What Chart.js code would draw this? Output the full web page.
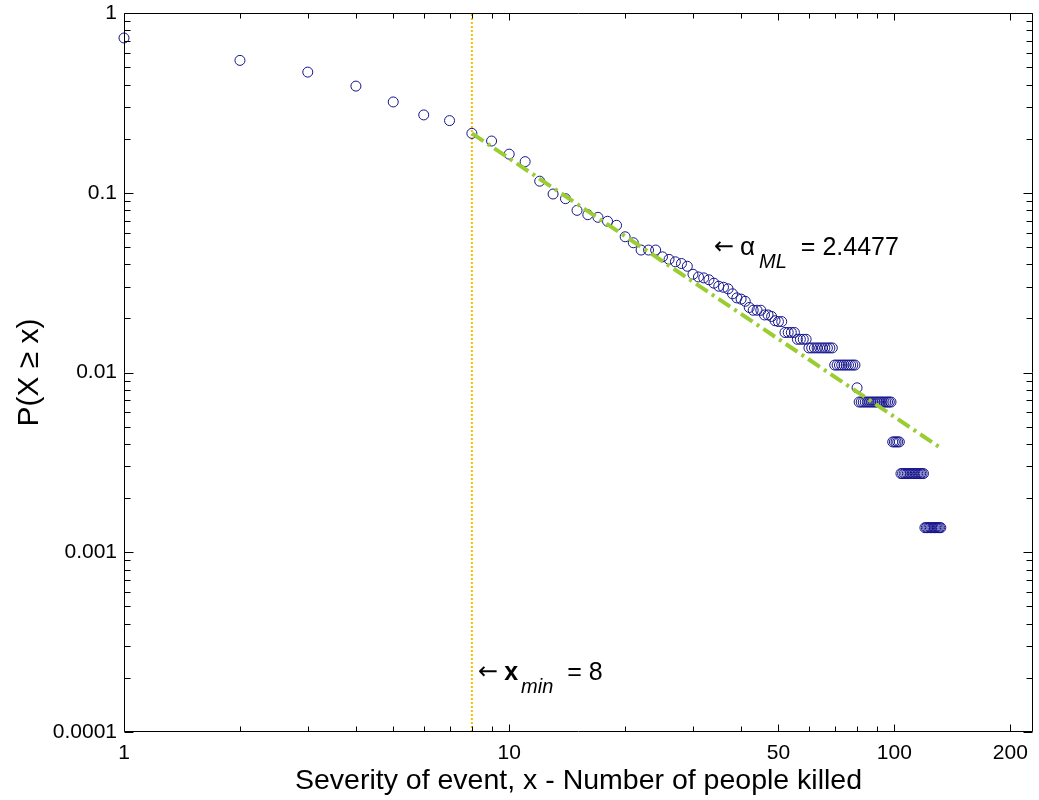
<!DOCTYPE html>
<html>
<head>
<meta charset="utf-8">
<title>P(X ≥ x)</title>
<script src="https://cdn.jsdelivr.net/npm/chart.js@4.4.0/dist/chart.umd.min.js"></script>
<style>
  html, body { margin: 0; padding: 0; background: #fff; }
  #grafico { display: block; }
</style>
</head>
<body>
<canvas id="grafico" width="1039" height="800"></canvas>
<script>
// severity of event (number of people killed), one point per integer x
const severidade = [
  1, 2, 3, 4, 5, 6, 7, 8, 9, 10,
  11, 12, 13, 14, 15, 16, 17, 18, 19, 20,
  21, 22, 23, 24, 25, 26, 27, 28, 29, 30,
  31, 32, 33, 34, 35, 36, 37, 38, 39, 40,
  41, 42, 43, 44, 45, 46, 47, 48, 49, 50,
  51, 52, 53, 54, 55, 56, 57, 58, 59, 60,
  61, 62, 63, 64, 65, 66, 67, 68, 69, 70,
  71, 72, 73, 74, 75, 76, 77, 78, 79, 80,
  81, 82, 83, 84, 85, 86, 87, 88, 89, 90,
  91, 92, 93, 94, 95, 96, 97, 98, 99, 100,
  101, 102, 103, 104, 105, 106, 107, 108, 109, 110,
  111, 112, 113, 114, 115, 116, 117, 118, 119, 120,
  121, 122, 123, 124, 125, 126, 127, 128, 129, 130,
  131, 132
];

// P(X >= x)
const probabilidade = [
  0.726, 0.545, 0.469, 0.392, 0.320, 0.271, 0.252, 0.214, 0.194, 0.164,
  0.149, 0.116, 0.0984, 0.0927, 0.0798, 0.0755, 0.0730, 0.0694, 0.0659, 0.0569,
  0.0527, 0.0480, 0.0480, 0.0480, 0.0440, 0.0426, 0.0413, 0.0404, 0.0390, 0.0352,
  0.0340, 0.0336, 0.0328, 0.0314, 0.0302, 0.0298, 0.0292, 0.0274, 0.0260, 0.0256,
  0.0249, 0.0230, 0.0222, 0.0222, 0.0222, 0.0209, 0.0209, 0.0205, 0.0194, 0.0192,
  0.0192, 0.0167, 0.0167, 0.0167, 0.0167, 0.0153, 0.0153, 0.0153, 0.0153, 0.0137,
  0.0137, 0.0137, 0.0137, 0.0137, 0.0137, 0.0137, 0.0137, 0.0137, 0.0137, 0.0110,
  0.0110, 0.0110, 0.0110, 0.0110, 0.0110, 0.0110, 0.0110, 0.0110, 0.0110, 0.00822,
  0.00685, 0.00685, 0.00685, 0.00685, 0.00685, 0.00685, 0.00685, 0.00685, 0.00685, 0.00685,
  0.00685, 0.00685, 0.00685, 0.00685, 0.00685, 0.00685, 0.00685, 0.00685, 0.00411, 0.00411,
  0.00411, 0.00411, 0.00411, 0.00274, 0.00274, 0.00274, 0.00274, 0.00274, 0.00274, 0.00274,
  0.00274, 0.00274, 0.00274, 0.00274, 0.00274, 0.00274, 0.00274, 0.00274, 0.00274, 0.00137,
  0.00137, 0.00137, 0.00137, 0.00137, 0.00137, 0.00137, 0.00137, 0.00137, 0.00137, 0.00137,
  0.00137, 0.00137
];

// power-law fit (ML), from xmin to the largest event
const ajusteX = [8, 132];
const ajusteY = [0.214, 0.0038];

const xmin = 8;
const alphaML = '2.4477';

// ticks
const ticksX = [1, 2, 3, 4, 5, 6, 7, 8, 9, 10, 20, 30, 40, 50, 60, 70, 80, 90, 100, 200];
const rotulosX = [1, 10, 50, 100, 200];
const rotulosY = [0.0001, 0.001, 0.01, 0.1, 1];

const fonte = '"Liberation Sans", Arial, Helvetica, sans-serif';
const fonteSeta = '"DejaVu Sans", sans-serif';
const azul = '#14148c';

// marcas menores do eixo y (2..9 em cada década)
const ticksY = [];
rotulosY.slice(0, -1).forEach(d => {
    for (let m = 1; m <= 9; m++) ticksY.push(m * d);
});
ticksY.push(1);

// escreve pedaços de texto lado a lado: [texto, fonte, deslocamento vertical, espaço depois]
function escrever(ctx, px, py, pedacos) {
    pedacos.forEach(([texto, f, dy, gap]) => {
        ctx.font = f;
        ctx.fillText(texto, px, py + dy);
        px += ctx.measureText(texto).width + gap;
    });
}

// desenha a caixa, as marcas para dentro e os textos anotados
const moldura = {
    id: 'moldura',
    afterDatasetsDraw(chart) {
        const { ctx, chartArea: a, scales: { x, y } } = chart;
        const L = Math.round(a.left) + 0.5, R = Math.round(a.right) - 0.5;
        const T = Math.round(a.top) + 0.5, B = Math.round(a.bottom) - 0.5;
        ctx.save();
        ctx.strokeStyle = '#000';
        ctx.lineWidth = 1;
        ctx.beginPath();
        ctx.rect(L, T, R - L, B - T);
        ticksX.forEach(v => {
            const px = Math.round(x.getPixelForValue(v)) + 0.5;
            const len = rotulosX.includes(v) ? 7 : 5;
            ctx.moveTo(px, B); ctx.lineTo(px, B - len);
            ctx.moveTo(px, T); ctx.lineTo(px, T + len);
        });
        ticksY.forEach(v => {
            const py = Math.round(y.getPixelForValue(v)) + 0.5;
            const len = rotulosY.includes(v) ? 9 : 6;
            ctx.moveTo(L, py); ctx.lineTo(L + len, py);
            ctx.moveTo(R, py); ctx.lineTo(R - len, py);
        });
        ctx.stroke();
        ctx.restore();
    },
    afterDraw(chart) {
        const { ctx, scales: { x, y } } = chart;
        ctx.save();
        ctx.fillStyle = '#000';
        ctx.textBaseline = 'middle';
        ctx.textAlign = 'left';

        // ← α_ML = 2.4477
        escrever(ctx, x.getPixelForValue(34), y.getPixelForValue(0.0493), [
            ['\u2190', '24px ' + fonteSeta, 0, 6],
            ['\u03b1', '26px ' + fonte, 0, 4],
            ['ML', 'italic 20px ' + fonte, 14, 14],
            ['= ' + alphaML, '25px ' + fonte, 0, 0]
        ]);

        // ← x_min = 8
        escrever(ctx, x.getPixelForValue(8.3), y.getPixelForValue(0.000213), [
            ['\u2190', '24px ' + fonteSeta, 0, 6],
            ['x', 'bold 25px ' + fonte, 0, 3],
            ['min', 'italic 20px ' + fonte, 14, 14],
            ['= ' + xmin, '25px ' + fonte, 0, 0]
        ]);
        ctx.restore();
    }
};

function configurarGrafico() {
    const ctx = document.getElementById('grafico').getContext('2d');
    new Chart(ctx, {
        type: 'scatter',
        data: {
            datasets: [{
                label: 'P(X >= x)',
                data: severidade.map((v, i) => ({ x: v, y: probabilidade[i] })),
                pointStyle: 'circle',
                pointRadius: 5,
                pointBorderWidth: 1,
                borderColor: azul,
                backgroundColor: 'rgba(0,0,0,0)',
                showLine: false,
                clip: false,
                order: 1
            }, {
                label: 'ajuste',
                data: ajusteX.map((v, i) => ({ x: v, y: ajusteY[i] })),
                showLine: true,
                pointRadius: 0,
                borderColor: '#9acd32',
                borderWidth: 4,
                borderDash: [14, 5, 3, 5],
                order: 0
            }, {
                label: 'xmin',
                data: [{ x: xmin, y: rotulosY[0] }, { x: xmin, y: rotulosY[rotulosY.length - 1] }],
                showLine: true,
                pointRadius: 0,
                borderColor: '#f2c000',
                borderWidth: 2,
                borderDash: [2, 2],
                order: 2
            }]
        },
        options: {
            responsive: false,
            animation: false,
            devicePixelRatio: 1,
            events: [],
            layout: { padding: { top: 13, right: 4, left: 0, bottom: 0 } },
            plugins: { legend: { display: false }, tooltip: { enabled: false } },
            scales: {
                x: {
                    type: 'logarithmic',
                    position: 'bottom',
                    min: 1,
                    max: 229,
                    grid: { display: false, drawTicks: false },
                    border: { display: false },
                    afterBuildTicks: s => { s.ticks = rotulosX.map(v => ({ value: v })); },
                    afterFit: s => { s.height = 68; s.paddingLeft = 0; s.paddingRight = 0; },
                    ticks: {
                        autoSkip: false,
                        maxRotation: 0,
                        padding: 9,
                        color: '#000',
                        font: { family: fonte, size: 21 },
                        callback: v => String(v)
                    },
                    title: {
                        display: true,
                        text: 'Severity of event, x - Number of people killed',
                        color: '#000',
                        font: { family: fonte, size: 28.5 },
                        padding: { top: 0, bottom: 2 }
                    }
                },
                y: {
                    type: 'logarithmic',
                    position: 'left',
                    min: 0.0001,
                    max: 1,
                    grid: { display: false, drawTicks: false },
                    border: { display: false },
                    afterBuildTicks: s => { s.ticks = rotulosY.map(v => ({ value: v })); },
                    afterFit: s => { s.width = 124; s.paddingTop = 0; s.paddingBottom = 0; },
                    ticks: {
                        autoSkip: false,
                        padding: 7,
                        color: '#000',
                        font: { family: fonte, size: 21 },
                        callback: v => String(v)
                    },
                    title: {
                        display: true,
                        text: 'P(X \u2265 x)',
                        color: '#000',
                        font: { family: fonte, size: 30 },
                        padding: { top: 12, bottom: 0 }
                    }
                }
            }
        },
        plugins: [moldura]
    });
}

window.onload = function() {
    configurarGrafico();
};
</script>
</body>
</html>
